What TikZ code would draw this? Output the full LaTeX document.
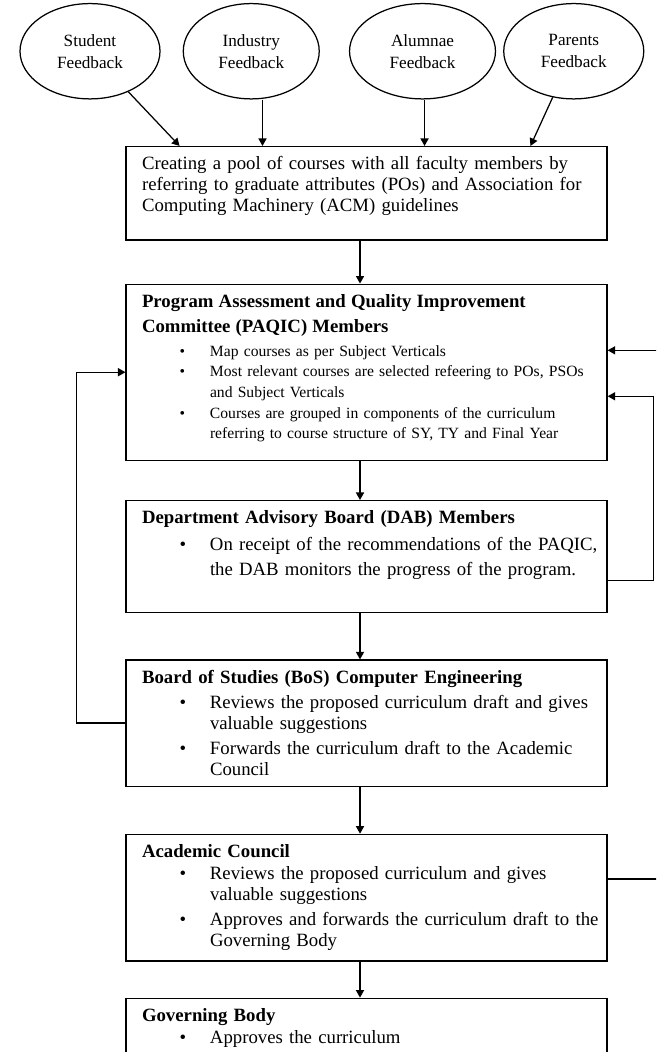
\documentclass[tikz,border=0pt]{standalone}
\usepackage{fontspec}
\setmainfont{Liberation Serif}
\usepackage{tikz}
\usetikzlibrary{positioning}
\usetikzlibrary{shapes.geometric}
\usetikzlibrary{arrows.meta}

\newcommand{\bitem}[1]{\makebox[43.5pt][l]{\hspace*{24pt}\textbullet}\mbox{#1}}
\newcommand{\bcont}[1]{\hspace*{43.5pt}\mbox{#1}}
\newcommand{\bpad}[1]{\rule[-#1]{0pt}{#1}}

\begin{document}
\begin{tikzpicture}[
  >={Triangle[length=4.8pt,width=5.2pt]},
  feedback/.style={draw, thick, ellipse, minimum height=61pt, inner sep=0pt, align=center, font=\fontsize{11}{14}\selectfont},
  stage/.style={draw, thick, rectangle, text width=287.4pt, inner xsep=10.2pt, inner ysep=6.5pt, align=left, font=\fontsize{12}{13.4}\selectfont}
]

  \useasboundingbox (0,0) rectangle (419.84pt,-673.28pt);
  \clip (0,0) rectangle (419.84pt,-673.28pt);

  % Feedback

  \node[feedback, minimum width=89.6pt] (fb-student) at (57.6pt,-32.8pt) {Student\\Feedback};
  \node[feedback, minimum width=87pt, right=14.1pt of fb-student] (fb-industry) {Industry\\Feedback};
  \node[feedback, minimum width=93.4pt, right=18.6pt of fb-industry] (fb-alumnae) {Alumnae\\Feedback};
  \node[feedback, minimum width=89.6pt, right=4.5pt of fb-alumnae] (fb-parents) {Parents\\Feedback};

  % Pool of courses

  \node[stage, anchor=north] (box-pool) at (234.6pt,-93.4pt) {\mbox{Creating a pool of courses with all faculty members by}\\ \mbox{referring to graduate attributes (POs) and Association for}\\ \mbox{Computing Machinery (ACM) guidelines}\bpad{11.5pt}};

  \coordinate (in-student) at ([xshift=34.6pt]box-pool.north west);
  \coordinate (in-industry) at ([xshift=87.7pt]box-pool.north west);
  \coordinate (in-alumnae) at ([xshift=191.4pt]box-pool.north west);
  \coordinate (in-parents) at ([xshift=259.2pt]box-pool.north west);

  \draw[->, thick] (fb-student) -- (in-student);
  \draw[->, thick] (fb-industry.south -| in-industry) -- (in-industry);
  \draw[->, thick] (fb-alumnae.south -| in-alumnae) -- (in-alumnae);
  \draw[->, thick] (fb-parents) -- (in-parents);

  % Committees

  \node[stage, below=27.5pt of box-pool, font=\fontsize{10}{13.2}\selectfont] (box-paqic) {{\fontsize{12}{13.2}\selectfont\bfseries Program Assessment and Quality Improvement}\\[2.8pt] {\fontsize{12}{13.2}\selectfont\bfseries Committee (PAQIC) Members}\\[2.2pt] \bitem{Map courses as per Subject Verticals}\\ \bitem{Most relevant courses are selected refeering to POs, PSOs}\\ \bcont{and Subject Verticals}\\ \bitem{Courses are grouped in components of the curriculum}\\ \bcont{referring to course structure of SY, TY and Final Year}\bpad{7.2pt}};

  \node[stage, below=25pt of box-paqic] (box-dab) {\textbf{Department Advisory Board (DAB) Members}\\[3.9pt] \bitem{On receipt of the recommendations of the PAQIC,}\\[2.6pt] \bcont{the DAB monitors the progress of the program.}\bpad{17.2pt}};

  \node[stage, below=29.4pt of box-dab] (box-bos) {\textbf{Board of Studies (BoS) Computer Engineering}\\[2.6pt] \bitem{Reviews the proposed curriculum draft and gives}\\ \bcont{valuable suggestions}\\[2.6pt] \bitem{Forwards the curriculum draft to the Academic}\\ \bcont{Council}\bpad{0.5pt}};

  \node[stage, below=30pt of box-bos] (box-council) {\textbf{Academic Council}\\[1pt] \bitem{Reviews the proposed curriculum and gives}\\ \bcont{valuable suggestions}\\[2.6pt] \bitem{Approves and forwards the curriculum draft to the}\\ \bcont{Governing Body}\bpad{2.2pt}};

  \node[stage, below=23pt of box-council] (box-body) {\textbf{Governing Body}\\[1pt] \bitem{Approves the curriculum}\bpad{30pt}};

  % Flow down

  \draw[->, thick] ([xshift=-4.2pt]box-pool.south) -- ([xshift=-4.2pt]box-paqic.north);
  \draw[->, thick] ([xshift=-4.2pt]box-paqic.south) -- ([xshift=-4.2pt]box-dab.north);
  \draw[->, thick] ([xshift=-4.2pt]box-dab.south) -- ([xshift=-4.2pt]box-bos.north);
  \draw[->, thick] ([xshift=-4.2pt]box-bos.south) -- ([xshift=-4.2pt]box-council.north);
  \draw[->, thick] ([xshift=-4.2pt]box-council.south) -- ([xshift=-4.2pt]box-body.north);

  % Feedback loops

  \draw[->, thick] (box-bos.west) -- ++(-31.3pt,0) |- (box-paqic.west);
  \draw[->, thick] ([yshift=-15.4pt]box-dab.east) -- ++(29.5pt,0) |- ([yshift=-15.4pt]box-paqic.east);
  \draw[->, thick] ([yshift=12pt]box-council.east) -- ++(45pt,0) |- ([yshift=14pt]box-paqic.east);

\end{tikzpicture}
\end{document}
